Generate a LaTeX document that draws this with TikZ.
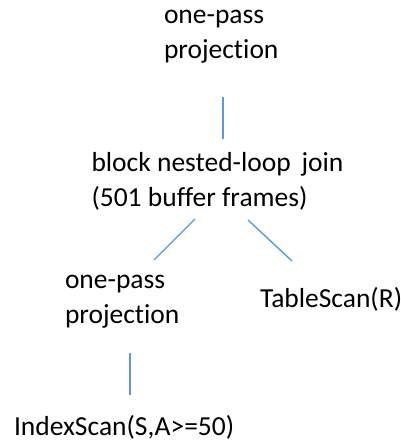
\documentclass[tikz,border=0pt]{standalone}
\usepackage{fontspec}
\setmainfont[Ligatures=NoCommon]{Carlito}
\definecolor{linkblue}{HTML}{5B9BD5}
\begin{document}
\begin{tikzpicture}[x=1pt,y=-1pt,
  label/.style={anchor=base west,inner sep=0pt,outer sep=0pt,align=left,
    font=\fontsize{27.5}{35}\selectfont},
  link/.style={draw=linkblue,line width=1.4pt}]
\useasboundingbox (0,0) rectangle (401,444);
\node[label] (top) at (164,58.3) {one-pass\\projection};
\node[label] (join) at (91.5,206.7) {block nested-loop\, join\\(501 buffer frames)};
\node[label] (proj) at (65,323) {one-pass\\projection};
\node[label] (tscan) at (260,307) {TableScan(R)};
\node[label] (iscan) at (14,435) {IndexScan(S,A>=50)};
\coordinate (a1) at (223,97);  \coordinate (a2) at (223,139);
\coordinate (b1) at (195,219); \coordinate (b2) at (154,260);
\coordinate (c1) at (248,220); \coordinate (c2) at (292,261);
\coordinate (d1) at (130,353); \coordinate (d2) at (130,395);
\draw[link] (a1) -- (a2);
\draw[link] (b1) -- (b2);
\draw[link] (c1) -- (c2);
\draw[link] (d1) -- (d2);
\end{tikzpicture}
\end{document}
